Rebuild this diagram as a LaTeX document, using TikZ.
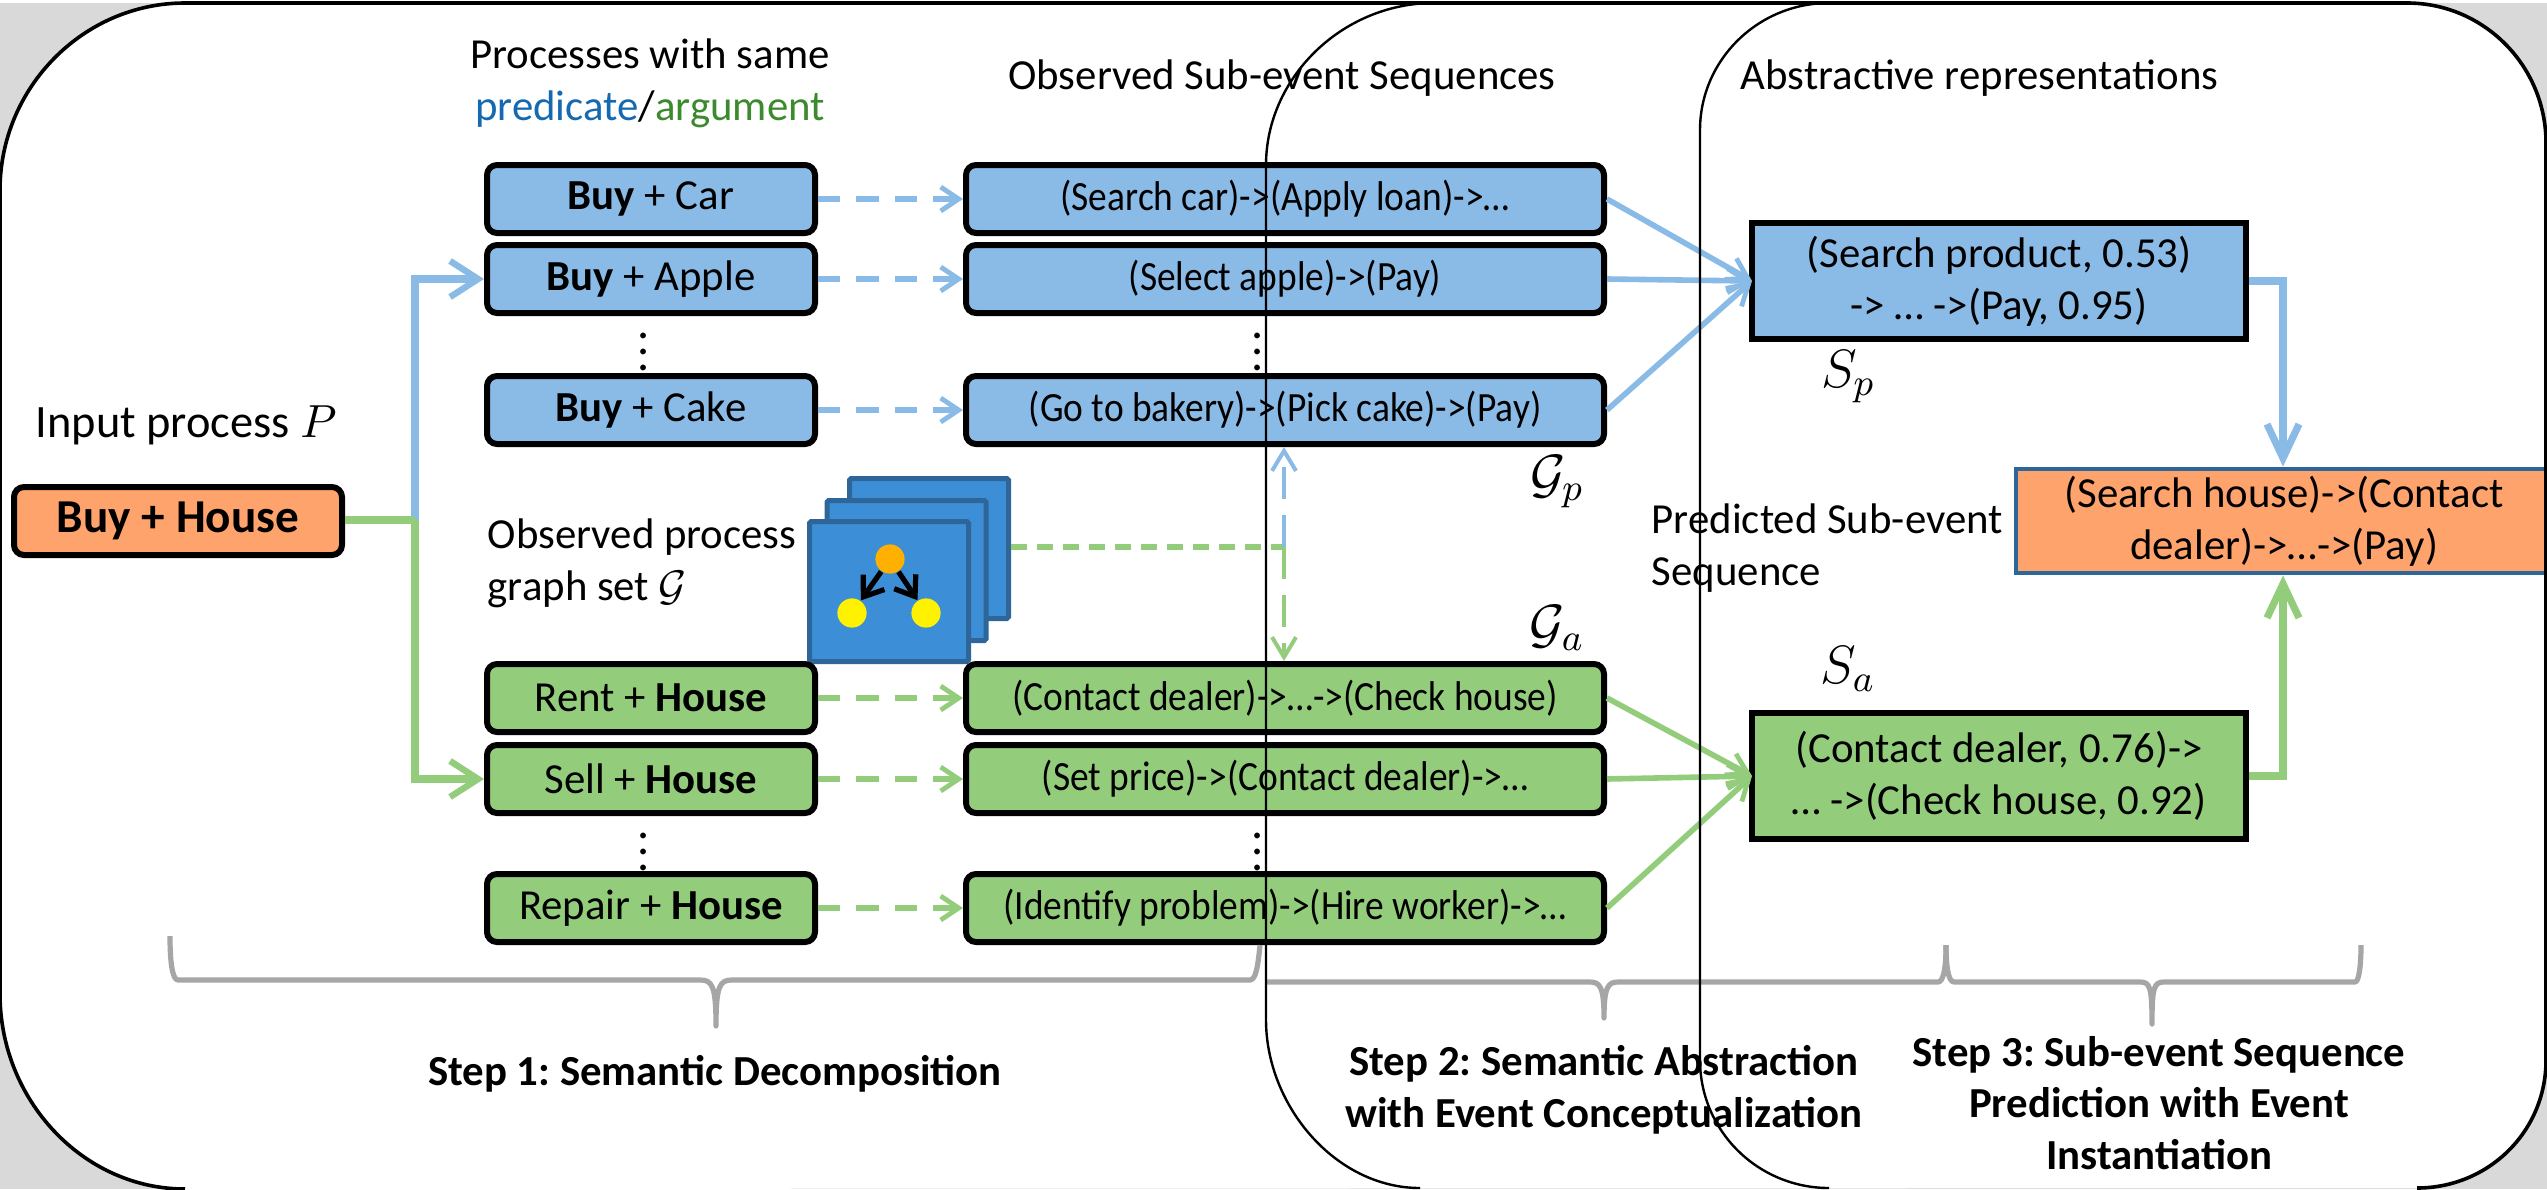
\documentclass[tikz,border=0pt]{standalone}
\usepackage{fontspec}
\usepackage{fix-cm}
\setmainfont{Carlito}
\newfontfamily\condfont[FakeStretch=0.9]{Carlito}
\usetikzlibrary{arrows.meta}
\definecolor{bluef}{HTML}{8ABBE7}
\definecolor{greenf}{HTML}{93CD7C}
\definecolor{orangef}{HTML}{FFA36C}
\definecolor{stackf}{HTML}{3C8FD6}
\definecolor{stackb}{HTML}{2E6699}
\definecolor{bgg}{HTML}{D9D9D9}
\definecolor{bracec}{HTML}{A6A6A6}
\definecolor{predc}{HTML}{1469B0}
\definecolor{argc}{HTML}{3C8A2E}
\definecolor{rootc}{HTML}{FFB000}
\frenchspacing
\tikzset{
  x=0.25pt,y=-0.25pt,
  lab/.style={font=\fontsize{10.7}{13}\selectfont,inner sep=0,align=center},
  labl/.style={lab,align=left,anchor=west},
  stepl/.style={font=\fontsize{10.7}{12.9}\selectfont\bfseries,inner sep=0,align=center},
  mathl/.style={font=\fontsize{13.5}{16}\selectfont,inner sep=0},
  box/.style={draw=black,line width=1.5pt,rounded corners=2.5pt,minimum height=17pt,inner sep=0,font=\fontsize{10.7}{13}\selectfont,align=center},
  pbox/.style={box,minimum width=82pt},
  qbox/.style={box,minimum width=159.5pt,font=\condfont\fontsize{10.4}{12}\selectfont},
  bluebox/.style={fill=bluef},
  greenbox/.style={fill=greenf},
  absbox/.style={draw=black,line width=1.5pt,inner sep=0,minimum width=123.5pt,font=\fontsize{10.7}{13}\selectfont,align=center},
  sheet/.style={draw=stackb,line width=1.25pt,fill=stackf,minimum width=39.75pt,minimum height=35pt,inner sep=0,rounded corners=0.4pt},
  graphdot/.style={circle,inner sep=0,minimum size=7.3pt},
  grapharrow/.style={line width=1.3pt,-{Straight Barb[length=4.5pt,width=6.5pt,line width=1.3pt]}},
  elbow/.style={line width=2pt,-{Straight Barb[length=7pt,width=9pt,line width=1.6pt]}},
  elbowb/.style={line width=2pt,-{Straight Barb[length=8.5pt,width=8pt,line width=1.8pt]}},
  dash arrow/.style={line width=1.4pt,dash pattern=on 5.6pt off 4pt,-{Straight Barb[length=4.5pt,width=6pt,line width=1.2pt]}},
  conv arrow/.style={line width=1.4pt,-{Straight Barb[length=5pt,width=6pt,line width=1.2pt]}},
  thindash/.style={line width=1pt,dash pattern=on 8pt off 4pt,-{Straight Barb[length=5pt,width=6pt]}},
  bracepath/.style={draw=bracec,line width=1.3pt,line join=round},
  outer/.style={draw=black,line width=0.6pt},
}
\begin{document}
\begin{tikzpicture}
\useasboundingbox (0,0) rectangle (2547,1189);
\fill[bgg] (0,3) rectangle (2547,1189);
\fill[white] (0,190) .. controls (0,88) and (83,3) .. (185,3) -- (2407,3) .. controls (2484,3) and (2547,66) .. (2547,143) -- (2547,1060) .. controls (2547,1132) and (2488,1188) .. (2417,1188) -- (185,1189) .. controls (83,1189) and (0,1100) .. (0,994) -- cycle;

% sheets
\node[sheet] (s3) at (929,548.5) {};
\node[sheet] (s2) at (906.5,570.5) {};
\node[sheet] (s1) at (889,591.5) {};
\node[graphdot,fill=rootc] (g0) at (890,559) {};
\node[graphdot,fill=yellow] (g1) at (852,613) {};
\node[graphdot,fill=yellow] (g2) at (926,613) {};
\draw[grapharrow] (g0) -- (g1);
\draw[grapharrow] (g0) -- (g2);

% nodes left
\node[box,fill=orangef,minimum width=82pt,font=\fontsize{11.8}{13}\selectfont\bfseries] (in) at (178,521) {Buy + House};
\node[pbox,bluebox] (b1) at (651,199) {\textbf{Buy} + Car};
\node[pbox,bluebox] (b2) at (651,279) {\textbf{Buy} + Apple};
\node[pbox,bluebox] (b3) at (651,410) {\textbf{Buy} + Cake};
\node[pbox,greenbox] (g1b) at (651,698) {Rent + \textbf{House}};
\node[pbox,greenbox] (g2b) at (651,779) {Sell + \textbf{House}};
\node[pbox,greenbox] (g3b) at (651,908) {Repair + \textbf{House}};

\node[qbox,bluebox] (q1) at (1285,199) {(Search car)->(Apply loan)->\ldots};
\node[qbox,bluebox] (q2) at (1285,279) {(Select apple)->(Pay)};
\node[qbox,bluebox] (q3) at (1285,410) {(Go to bakery)->(Pick cake)->(Pay)};
\node[qbox,greenbox] (r1) at (1285,698) {(Contact dealer)->\ldots->(Check house)};
\node[qbox,greenbox] (r2) at (1285,779) {(Set price)->(Contact dealer)->\ldots};
\node[qbox,greenbox] (r3) at (1285,908) {(Identify problem)->(Hire worker)->\ldots};

\node[absbox,bluebox,minimum height=29pt] (sp) at (1999,281) {(Search product, 0.53)\\-> \ldots\ ->(Pay, 0.95)};
\node[absbox,greenbox,minimum height=31.5pt] (sa) at (1999,776) {(Contact dealer, 0.76)->\\\ldots\ ->(Check house, 0.92)};
\node[draw=stackb,line width=1.2pt,fill=orangef,inner sep=0,minimum width=134pt,minimum height=26pt,font=\fontsize{10.7}{13}\selectfont,align=center] (out) at (2284,521) {(Search house)->(Contact\\dealer)->\ldots->(Pay)};

% texts
\node[lab] (t1) at (650,83) {Processes with same\\{\color{predc}predicate}/{\color{argc}argument}};
\node[labl,font=\fontsize{11.6}{13}\selectfont] (t2) at (35,425) {Input process $P$};
\node[lab,align=left,anchor=west] (t3) at (487,563) {Observed process\\graph set $\mathcal{G}$};
\node[lab] (t4) at (1282,78) {Observed Sub-event Sequences};
\node[labl] (t5) at (1740,78) {Abstractive representations};
\node[lab,align=left,anchor=west] (t6) at (1651,548) {Predicted Sub-event\\Sequence};
\node[mathl] (mp) at (1557,482) {$\mathcal{G}_p$};
\node[mathl] (ma) at (1557,628) {$\mathcal{G}_a$};
\node[mathl] (msp) at (1848,377) {$S_p$};
\node[mathl] (msa) at (1848,669) {$S_a$};
\node[stepl] (st1) at (715,1074) {Step 1: Semantic Decomposition};
\node[stepl] (st2) at (1604,1090) {Step 2: Semantic Abstraction\\with Event Conceptualization};
\node[stepl] (st3) at (2159,1103) {Step 3: Sub-event Sequence\\Prediction with Event\\Instantiation};

% dots
\foreach \n/\xx/\yy in {d1/644/340,d2/644/840,d3/1258/340,d4/1258/840}
  \node[inner sep=0,font=\fontsize{12}{12}\selectfont] (\n) at (\xx,\yy) {$\vdots$};

% connectors
\coordinate (j) at (415,520);
\draw[elbow,bluef] (j) |- (b2.west);
\draw[elbow,greenf] (j) |- (g2b.west);
\draw[line width=2pt,greenf] (in.east|-j) -- (j);

\foreach \a/\b in {b1/q1,b2/q2,b3/q3}
  \draw[dash arrow,bluef] (\a) -- (\b);
\foreach \a/\b in {g1b/r1,g2b/r2,g3b/r3}
  \draw[dash arrow,greenf] (\a) -- (\b);

\coordinate (spin) at (1752,281);
\foreach \a in {q1,q2,q3}
  \draw[conv arrow,bluef] (\a.east) -- (spin);
\coordinate (sain) at (1752,776);
\foreach \a in {r1,r2,r3}
  \draw[conv arrow,greenf] (\a.east) -- (sain);

\draw[elbowb,bluef] (sp.east) -| (out.north-|2283,0);
\draw[elbowb,greenf] (sa.east) -| (out.south-|2283,0);

\coordinate (vm) at (1284,547);
\draw[line width=1.6pt,greenf,dash pattern=on 4pt off 2.5pt] (s3.east|-vm) -- (vm);
\draw[thindash,bluef] (vm) -- (q3.south-|vm);
\draw[thindash,greenf] (vm) -- (r1.north-|vm);

% braces
\draw[bracepath] (170,936) .. controls (170,960) and (172,980) .. (178,980) -- (700,980) .. controls (712,980) and (716,985) .. (716,1026) .. controls (716,985) and (720,980) .. (732,980) -- (1250,980) .. controls (1256,980) and (1258,965) .. (1260,945);
\draw[bracepath] (1266,982) -- (1590,982) .. controls (1600,982) and (1604,987) .. (1604,1018) .. controls (1604,987) and (1608,982) .. (1618,982) -- (1938,982) .. controls (1944,982) and (1946,965) .. (1946,945);
\draw[bracepath] (1946,945) .. controls (1946,965) and (1948,982) .. (1954,982) -- (2140,982) .. controls (2150,982) and (2152,987) .. (2152,1024) .. controls (2152,987) and (2154,982) .. (2164,982) -- (2355,982) .. controls (2359,982) and (2361,965) .. (2361,945);

% panel outlines, on top of everything
\draw[outer,line width=0.9pt] (185,1189) .. controls (83,1189) and (0,1100) .. (0,994) -- (0,190) .. controls (0,88) and (83,3) .. (185,3) -- (2407,3) .. controls (2484,3) and (2546,66) .. (2546,143) -- (2546,1060) .. controls (2546,1132) and (2488,1188) .. (2417,1188);
\draw[outer] (1434,3) .. controls (1342,3) and (1266,78) .. (1266,165) -- (1266,1020) .. controls (1266,1105) and (1335,1188) .. (1420,1188);
\draw[outer] (1829,3) .. controls (1758,3) and (1700,60) .. (1700,130) -- (1700,1060) .. controls (1700,1131) and (1758,1188) .. (1829,1188);
\end{tikzpicture}
\end{document}
